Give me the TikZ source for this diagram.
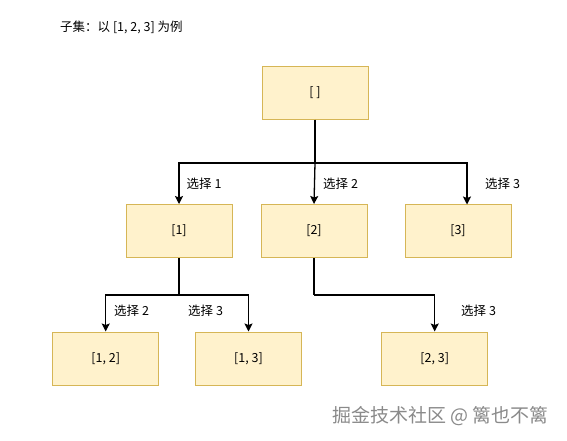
\documentclass[tikz,border=0pt]{standalone}
\usepackage{fontspec}
\setmainfont{Noto Sans CJK SC}
\usetikzlibrary{arrows.meta}
\definecolor{boxfill}{HTML}{FFF2CC}
\definecolor{boxdraw}{HTML}{D6B656}
\definecolor{wm}{HTML}{8A8A8A}
\tikzset{
  box/.style={draw=boxdraw,fill=boxfill,line width=1pt,minimum width=106pt,minimum height=53pt,inner sep=0pt,font=\fontsize{12.5pt}{14pt}\selectfont},
  conn/.style={line width=1.3pt,black},
  arr/.style={conn,-{Stealth[length=8pt,width=8pt,inset=1.5pt]}},
  lbl/.style={anchor=west,inner sep=0pt,font=\fontsize{12.5pt}{14pt}\selectfont}
}
\begin{document}
\begin{tikzpicture}[x=1pt,y=-1pt]
\useasboundingbox[fill=white] (0,0) rectangle (567,440);
\node[lbl] (title) at (60,27) {子集：以 [1, 2, 3] 为例};
\node[box] (root) at (315,92.5) {[ ]};
\node[box] (n1) at (179,231) {[1]};
\node[box] (n2) at (314,231) {[2]};
\node[box] (n3) at (458,231) {[3]};
\node[box] (n12) at (105.7,358.5) {[1, 2]};
\node[box] (n13) at (248.5,358.5) {[1, 3]};
\node[box] (n23) at (434.7,358.5) {[2, 3]};
\coordinate (j0) at (315,163);
\coordinate (j1) at (179,295);
\coordinate (j2) at (314,295);
\coordinate (t3) at (467,204.5);
\draw[conn] (root.south) -- (j0);
\draw[arr] (j0) -| (n1.north);
\draw[arr] (j0) -- (n2.north);
\draw[arr] (j0) -| (t3);
\draw[conn] (n1.south) -- (j1);
\draw[arr] (j1) -| (n12.north);
\draw[arr] (j1) -| (n13.north);
\draw[conn] (n2.south) -- (j2);
\draw[arr] (j2) -| (n23.north);
\node[lbl] (l1) at (186.5,183.5) {选择 1};
\node[lbl] (l2) at (323,183.5) {选择 2};
\node[lbl] (l3) at (485,183.5) {选择 3};
\node[lbl] (l4) at (114,311) {选择 2};
\node[lbl] (l5) at (188,311) {选择 3};
\node[lbl] (l6) at (461,311) {选择 3};
\node[anchor=west,inner sep=0pt,text=wm,font=\fontsize{19pt}{22pt}\selectfont] (wmk) at (332,416) {掘金技术社区 @ 篱也不篱};
\end{tikzpicture}
\end{document}
